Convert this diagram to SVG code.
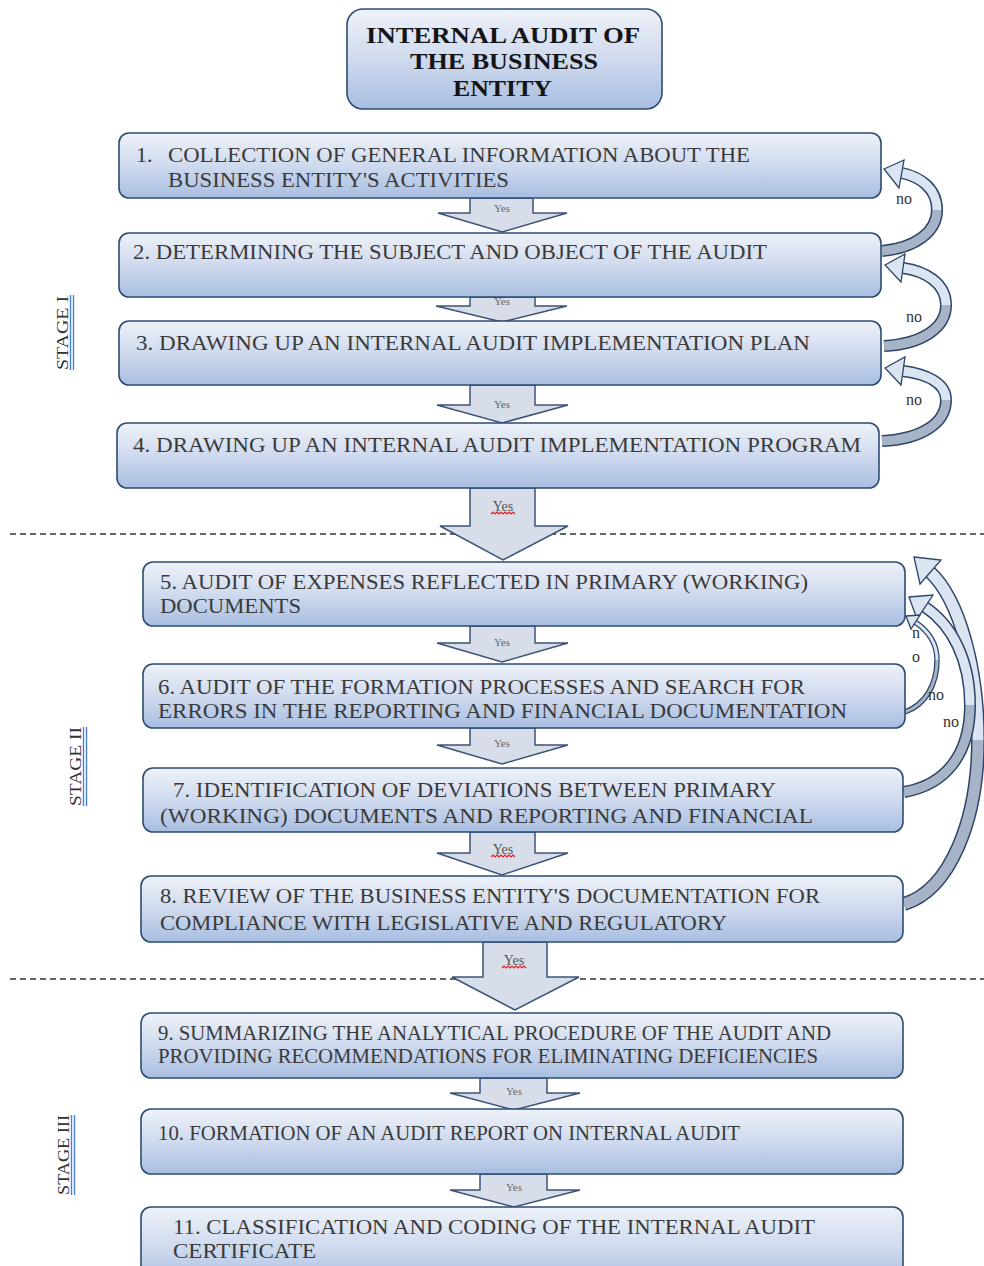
<svg xmlns="http://www.w3.org/2000/svg" width="984" height="1266" viewBox="0 0 984 1266">
<defs>
<linearGradient id="bg" x1="0" y1="0" x2="0" y2="1">
<stop offset="0" stop-color="#eef2f9"/>
<stop offset="0.5" stop-color="#cfdaee"/>
<stop offset="1" stop-color="#a8bee1"/>
</linearGradient>
<style>
.box{fill:url(#bg);stroke:#2d4b73;stroke-width:1.6}
.t{font-family:"Liberation Serif","Times New Roman",serif;font-size:22px;fill:#3a3a3a}
.ts{font-family:"Liberation Serif","Times New Roman",serif;font-size:20px;fill:#3a3a3a}
.title{font-family:"Liberation Serif","Times New Roman",serif;font-size:24px;font-weight:bold;fill:#151515}
.arr{fill:#d8dee9;stroke:#3c5378;stroke-width:1.5;stroke-linejoin:miter}
.y{font-family:"Liberation Serif","Times New Roman",serif;font-size:11px;fill:#666;text-anchor:middle}
.yb{font-family:"Liberation Serif","Times New Roman",serif;font-size:14px;fill:#555;text-anchor:middle}
.sq{fill:none;stroke:#e02020;stroke-width:1.2}
.no{font-family:"Liberation Serif","Times New Roman",serif;font-size:16px;fill:#333}
.dash{stroke:#333;stroke-width:1.3;stroke-dasharray:6 4}
.stage{font-family:"Liberation Serif","Times New Roman",serif;font-size:17px;fill:#333}
.ul{stroke:#4a7fe0;stroke-width:1.4}
.bo{fill:none;stroke:#2d4568}
.bl{fill:none;stroke:#dbe4f1}
.bd{fill:none;stroke:#a7b3c6}
.hd{fill:#dbe4f1;stroke:#2d4568;stroke-width:1.3;stroke-linejoin:miter}
</style>
</defs>
<rect width="984" height="1266" fill="#ffffff"/>

<g id="separators">
<line class="dash" x1="10" y1="534" x2="984" y2="534"/>
<line class="dash" x1="10" y1="979" x2="984" y2="979"/>
</g>

<g id="stages">
<g id="stage1">
<text class="stage" transform="translate(68,370) rotate(-90)" textLength="74" lengthAdjust="spacingAndGlyphs">STAGE I</text>
<line class="ul" x1="70.5" y1="295" x2="70.5" y2="370"/>
<line class="ul" x1="73.5" y1="295" x2="73.5" y2="370"/>
</g>
<g id="stage2">
<text class="stage" transform="translate(81,806) rotate(-90)" textLength="79" lengthAdjust="spacingAndGlyphs">STAGE II</text>
<line class="ul" x1="83.5" y1="727" x2="83.5" y2="806"/>
<line class="ul" x1="86.5" y1="727" x2="86.5" y2="806"/>
</g>
<g id="stage3">
<text class="stage" transform="translate(69,1195) rotate(-90)" textLength="80" lengthAdjust="spacingAndGlyphs">STAGE III</text>
<line class="ul" x1="71.5" y1="1115" x2="71.5" y2="1195"/>
<line class="ul" x1="74.5" y1="1115" x2="74.5" y2="1195"/>
</g>
</g>

<g id="connectors">
<polygon class="arr" points="470,198 533,198 533,213 567,213 502,232 438,213 470,213"/>
<text class="y" x="502" y="212">Yes</text>
<polygon class="arr" points="470,297 535,297 535,306 567,306 502,322 436,306 470,306"/>
<text class="y" x="502" y="305">Yes</text>
<polygon class="arr" points="470,385 535,385 535,405 568,405 502,423 437,405 470,405"/>
<text class="y" x="502" y="408">Yes</text>
<polygon class="arr" points="470,488 535,488 535,526 568,526 503,560 440,526 470,526"/>
<text class="yb" x="503" y="511">Yes</text>
<path class="sq" d="M491 514 l2 -2 l2 2 l2 -2 l2 2 l2 -2 l2 2 l2 -2 l2 2 l2 -2 l2 2 l2 -2 l2 2"/>
<polygon class="arr" points="470,626 535,626 535,643 568,643 502,662 437,643 470,643"/>
<text class="y" x="502" y="646">Yes</text>
<polygon class="arr" points="470,728 535,728 535,745 568,745 502,764 437,745 470,745"/>
<text class="y" x="502" y="747">Yes</text>
<polygon class="arr" points="470,832 535,832 535,853 568,853 502,875 437,853 470,853"/>
<text class="yb" x="503" y="854">Yes</text>
<path class="sq" d="M491 857 l2 -2 l2 2 l2 -2 l2 2 l2 -2 l2 2 l2 -2 l2 2 l2 -2 l2 2 l2 -2 l2 2"/>
<polygon class="arr" points="483,942 547,942 547,977 579,977 515,1010 452,977 483,977"/>
<text class="yb" x="514" y="965">Yes</text>
<path class="sq" d="M502 968 l2 -2 l2 2 l2 -2 l2 2 l2 -2 l2 2 l2 -2 l2 2 l2 -2 l2 2 l2 -2 l2 2"/>
<polygon class="arr" points="480,1078 547,1078 547,1093 580,1093 514,1110 450,1093 480,1093"/>
<text class="y" x="514" y="1095">Yes</text>
<polygon class="arr" points="480,1174 547,1174 547,1190 580,1190 514,1207 450,1190 480,1190"/>
<text class="y" x="514" y="1191">Yes</text>

<g id="no1">
<path class="bo" stroke-width="12" d="M882 251 C915 248 937 232 937 210 C937 188 920 177 902 173"/>
<path class="bd" stroke-width="9" d="M882 251 C915 248 937 232 937 210"/>
<path class="bl" stroke-width="9" d="M937 210 C937 188 920 177 902 173"/>
<polygon class="hd" points="884,169 904,160 899,188"/>
</g>
<g id="no2">
<path class="bo" stroke-width="12" d="M884 346 C922 344 946 328 946 305 C946 283 925 271 903 268"/>
<path class="bd" stroke-width="9" d="M884 346 C922 344 946 328 946 305"/>
<path class="bl" stroke-width="9" d="M946 305 C946 283 925 271 903 268"/>
<polygon class="hd" points="885,265 905,254 901,282"/>
</g>
<g id="no3">
<path class="bo" stroke-width="12" d="M882 441 C922 439 946 423 946 400 C946 382 925 374 903 371"/>
<path class="bd" stroke-width="9" d="M882 441 C922 439 946 423 946 400"/>
<path class="bl" stroke-width="9" d="M946 400 C946 382 925 374 903 371"/>
<polygon class="hd" points="885,368 905,357 901,385"/>
</g>
<text class="no" x="896" y="204">no</text>
<text class="no" x="906" y="322" fill="#666">no</text>
<text class="no" x="906" y="405">no</text>

<g id="no8">
<path class="bo" stroke-width="14" d="M904 904 C950 890 978 820 978 740 C978 670 960 600 930 572"/>
<path class="bd" stroke-width="11" d="M904 904 C950 890 978 820 978 740"/>
<path class="bl" stroke-width="11" d="M978 740 C978 670 960 600 930 572"/>
<polygon class="hd" points="914,557 941,560 920,584"/>
</g>
<g id="no7">
<path class="bo" stroke-width="12" d="M904 792 C945 785 970 755 970 705 C970 660 952 625 925 607"/>
<path class="bd" stroke-width="9" d="M904 792 C945 785 970 755 970 705"/>
<path class="bl" stroke-width="9" d="M970 705 C970 660 952 625 925 607"/>
<polygon class="hd" points="909,597 933,595 917,619"/>
</g>
<g id="no6">
<path class="bo" stroke-width="5.5" d="M905 712 C925 705 937 685 937 660 C937 645 930 632 915 622"/>
<path class="bd" stroke-width="3" d="M905 712 C925 705 937 685 937 660"/>
<path class="bl" stroke-width="3" d="M937 660 C937 645 930 632 915 622"/>
<polygon class="hd" points="906,616 920,615 911,629"/>
</g>
<text class="no" x="912" y="638">n</text>
<text class="no" x="912" y="662">o</text>
<text class="no" x="928" y="700">no</text>
<text class="no" x="943" y="727">no</text>
</g>

<g id="n0">
<rect class="box" x="347" y="9" width="315" height="100" rx="16"/>
<text class="title" x="366" y="43" textLength="274" lengthAdjust="spacingAndGlyphs">INTERNAL AUDIT OF</text>
<text class="title" x="410" y="69" textLength="188" lengthAdjust="spacingAndGlyphs">THE BUSINESS</text>
<text class="title" x="453" y="96" textLength="99" lengthAdjust="spacingAndGlyphs">ENTITY</text>
</g>

<g id="n1">
<rect class="box" x="119" y="133" width="762" height="65" rx="10"/>
<text class="t" x="136" y="162">1.</text>
<text class="t" x="168" y="162" textLength="582" lengthAdjust="spacingAndGlyphs">COLLECTION OF GENERAL INFORMATION ABOUT THE</text>
<text class="t" x="168" y="187" textLength="341" lengthAdjust="spacingAndGlyphs">BUSINESS ENTITY'S ACTIVITIES</text>
</g>
<g id="n2">
<rect class="box" x="119" y="233" width="762" height="64" rx="10"/>
<text class="t" x="133" y="259" textLength="634" lengthAdjust="spacingAndGlyphs">2. DETERMINING THE SUBJECT AND OBJECT OF THE AUDIT</text>
</g>
<g id="n3">
<rect class="box" x="119" y="321" width="762" height="64" rx="10"/>
<text class="t" x="136" y="350" textLength="674" lengthAdjust="spacingAndGlyphs">3. DRAWING UP AN INTERNAL AUDIT IMPLEMENTATION PLAN</text>
</g>
<g id="n4">
<rect class="box" x="117" y="423" width="762" height="65" rx="10"/>
<text class="t" x="133" y="452" textLength="728" lengthAdjust="spacingAndGlyphs">4. DRAWING UP AN INTERNAL AUDIT IMPLEMENTATION PROGRAM</text>
</g>
<g id="n5">
<rect class="box" x="143" y="562" width="762" height="64" rx="10"/>
<text class="t" x="160" y="589" textLength="648" lengthAdjust="spacingAndGlyphs">5. AUDIT OF EXPENSES REFLECTED IN PRIMARY (WORKING)</text>
<text class="t" x="160" y="613" textLength="141" lengthAdjust="spacingAndGlyphs">DOCUMENTS</text>
</g>
<g id="n6">
<rect class="box" x="143" y="664" width="762" height="64" rx="10"/>
<text class="t" x="158" y="694" textLength="647" lengthAdjust="spacingAndGlyphs">6. AUDIT OF THE FORMATION PROCESSES AND SEARCH FOR</text>
<text class="t" x="158" y="718" textLength="689" lengthAdjust="spacingAndGlyphs">ERRORS IN THE REPORTING AND FINANCIAL DOCUMENTATION</text>
</g>
<g id="n7">
<rect class="box" x="143" y="768" width="760" height="64" rx="10"/>
<text class="t" x="173" y="797" textLength="603" lengthAdjust="spacingAndGlyphs">7. IDENTIFICATION OF DEVIATIONS BETWEEN PRIMARY</text>
<text class="t" x="160" y="823" textLength="653" lengthAdjust="spacingAndGlyphs">(WORKING) DOCUMENTS AND REPORTING AND FINANCIAL</text>
</g>
<g id="n8">
<rect class="box" x="141" y="876" width="762" height="66" rx="10"/>
<text class="t" x="160" y="903" textLength="660" lengthAdjust="spacingAndGlyphs">8. REVIEW OF THE BUSINESS ENTITY'S DOCUMENTATION FOR</text>
<text class="t" x="160" y="930" textLength="567" lengthAdjust="spacingAndGlyphs">COMPLIANCE WITH LEGISLATIVE AND REGULATORY</text>
</g>
<g id="n9">
<rect class="box" x="141" y="1013" width="762" height="65" rx="10"/>
<text class="ts" x="158" y="1040" textLength="673" lengthAdjust="spacingAndGlyphs">9. SUMMARIZING THE ANALYTICAL PROCEDURE OF THE AUDIT AND</text>
<text class="ts" x="158" y="1063" textLength="660" lengthAdjust="spacingAndGlyphs">PROVIDING RECOMMENDATIONS FOR ELIMINATING DEFICIENCIES</text>
</g>
<g id="n10">
<rect class="box" x="141" y="1109" width="762" height="65" rx="10"/>
<text class="ts" x="158" y="1140" textLength="582" lengthAdjust="spacingAndGlyphs">10. FORMATION OF AN AUDIT REPORT ON INTERNAL AUDIT</text>
</g>
<g id="n11">
<rect class="box" x="141" y="1207" width="762" height="80" rx="10"/>
<text class="t" x="173" y="1234" textLength="642" lengthAdjust="spacingAndGlyphs">11. CLASSIFICATION AND CODING OF THE INTERNAL AUDIT</text>
<text class="t" x="173" y="1258" textLength="143" lengthAdjust="spacingAndGlyphs">CERTIFICATE</text>
</g>
</svg>
